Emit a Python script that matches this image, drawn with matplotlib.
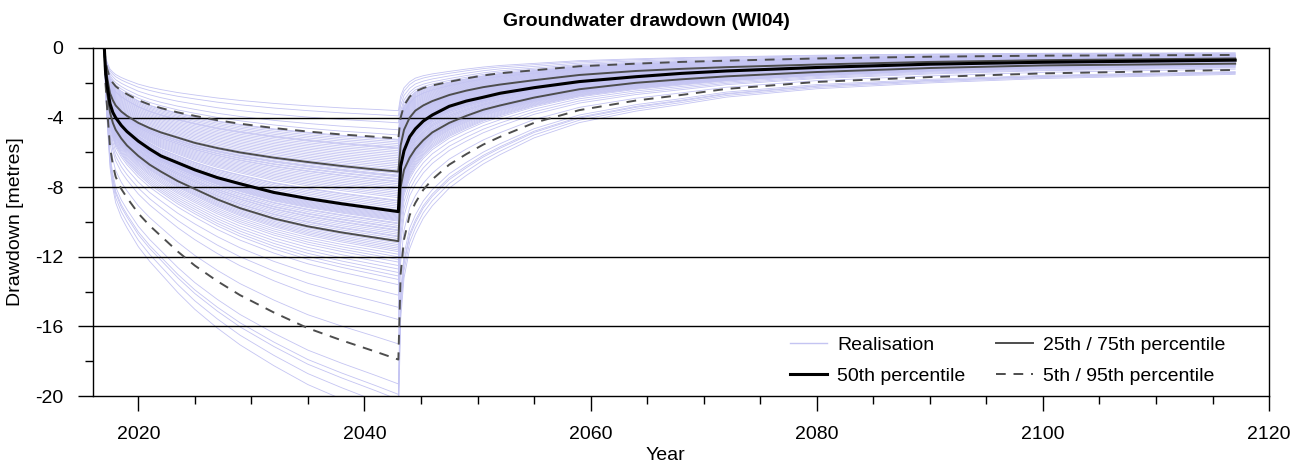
import numpy as np
import matplotlib
matplotlib.use("Agg")
import matplotlib.pyplot as plt
from matplotlib.ticker import MultipleLocator

plt.rcParams['font.family'] = ['Liberation Sans', 'DejaVu Sans']
plt.rcParams['axes.unicode_minus'] = False

# years at which the percentile curves were read (pumping, then recovery)
years_pump = [2017.0, 2017.1, 2017.25, 2017.5, 2017.75, 2018.0, 2018.5, 2019.0, 2020.0,
              2021.0, 2022.0, 2023.5, 2025.0, 2027.0, 2029.0, 2032.0, 2035.0, 2038.0,
              2041.0, 2043.0]
years_rec = [2043.2, 2043.5, 2044.0, 2044.5, 2045.2, 2046.0, 2047.5, 2049.0, 2050.5,
             2052.0, 2055.0, 2059.0, 2064.0, 2068.0, 2072.0, 2080.0, 2090.0, 2100.0, 2117.0]

# drawdown [m] of the percentile curves
p95 = [0, -0.7, -1.2, -1.75, -2.0, -2.2, -2.45, -2.65, -3.0, -3.25, -3.45, -3.7, -3.9,
       -4.15, -4.35, -4.6, -4.8, -4.97, -5.1, -5.2,
       -4.0, -3.3, -2.8, -2.5, -2.3, -2.15, -1.94, -1.75, -1.58, -1.45, -1.28, -1.05,
       -0.9, -0.8, -0.73, -0.6, -0.5, -0.44, -0.4]
p75 = [0, -1.0, -1.7, -2.6, -3.0, -3.3, -3.65, -3.9, -4.3, -4.6, -4.85, -5.15, -5.45,
       -5.75, -6.0, -6.3, -6.55, -6.78, -6.98, -7.1,
       -5.6, -4.7, -4.0, -3.6, -3.3, -3.05, -2.7, -2.45, -2.25, -2.1, -1.85, -1.55,
       -1.32, -1.2, -1.1, -0.95, -0.8, -0.7, -0.6]
p50 = [0, -1.3, -2.2, -3.2, -3.7, -4.0, -4.45, -4.8, -5.35, -5.8, -6.2, -6.6, -7.0,
       -7.45, -7.8, -8.3, -8.65, -8.95, -9.22, -9.4,
       -6.8, -5.9, -5.1, -4.65, -4.2, -3.85, -3.35, -3.05, -2.83, -2.6, -2.28, -1.93,
       -1.65, -1.46, -1.32, -1.12, -0.93, -0.82, -0.7]
p25 = [0, -1.5, -2.6, -3.7, -4.3, -4.7, -5.2, -5.6, -6.2, -6.7, -7.1, -7.65, -8.1,
       -8.7, -9.2, -9.8, -10.25, -10.6, -10.9, -11.1,
       -8.0, -7.0, -6.3, -5.8, -5.3, -4.85, -4.3, -3.9, -3.55, -3.3, -2.85, -2.37,
       -2.0, -1.8, -1.63, -1.38, -1.15, -1.0, -0.9]
p5 = [0, -2.0, -3.5, -5.7, -6.7, -7.4, -8.1, -8.6, -9.5, -10.2, -10.8, -11.7, -12.5,
      -13.4, -14.2, -15.2, -16.1, -16.8, -17.45, -17.9,
      -13.0, -11.0, -9.6, -8.9, -8.15, -7.55, -6.7, -6.1, -5.55, -5.1, -4.3, -3.57,
      -3.02, -2.7, -2.35, -1.95, -1.67, -1.46, -1.26]

# drawdown of each realisation at the end of pumping (2043)
realisation_peak = [
    -21.5, -20.8, -20.2, -19.9, -19.3,
    -17.0, -15.6, -14.9, -14.2, -13.6, -13.3, -13.1, -12.9, -12.7, -12.5,
    -12.3, -12.15, -12.0, -11.85, -11.7, -11.6, -11.5, -11.4, -11.3, -11.2,
    -11.05, -10.95, -10.85, -10.8, -10.7, -10.6, -10.5, -10.45, -10.35, -10.3,
    -10.2, -10.1, -10.05, -9.95, -9.9, -9.85, -9.8, -9.75, -9.7, -9.65,
    -9.6, -9.55, -9.5, -9.45, -9.4,
    -9.3, -9.2, -9.1, -9.0, -8.9, -8.8, -8.75, -8.6, -8.5, -8.4,
    -8.3, -8.2, -8.1, -8.0, -7.9, -7.8, -7.7, -7.65, -7.55, -7.5,
    -7.4, -7.35, -7.3, -7.2, -7.15,
    -7.0, -6.9, -6.8, -6.7, -6.6, -6.5, -6.4, -6.3, -6.2, -6.1,
    -6.0, -5.9, -5.8, -5.75, -5.7, -5.6, -5.5, -5.4, -5.3, -5.25,
    -5.0, -4.7, -4.3, -3.9, -3.6,
]

years = np.array(years_pump + years_rec)
pct = [np.array(p) for p in (p5, p25, p50, p75, p95)]
pct_peak = [c[len(years_pump) - 1] for c in pct]


def realisation_curve(peak):
    # shape taken from the neighbouring percentile curves, matched at 2043
    if peak <= pct_peak[0]:
        return pct[0] * peak / pct_peak[0]
    if peak >= pct_peak[-1]:
        return pct[-1] * peak / pct_peak[-1]
    for i in range(len(pct) - 1):
        a, b = pct_peak[i], pct_peak[i + 1]
        if a <= peak <= b:
            w = (peak - a) / (b - a)
            return (1 - w) * pct[i] + w * pct[i + 1]


fs = 14
fig = plt.figure(figsize=(13.03, 4.66), dpi=100)
ax = fig.add_axes([0.0714, 0.150, 0.9026, 0.747])

real_color = '#c4c4f2'
for pk in realisation_peak:
    ax.plot(years, realisation_curve(pk), color=real_color, lw=0.6, zorder=1)

for y in [-4, -8, -12, -16]:
    ax.axhline(y, color='black', lw=1.0, zorder=2)

ax.plot(years, pct[3], color='#4d4d4d', lw=1.4, zorder=3)
ax.plot(years, pct[1], color='#4d4d4d', lw=1.4, zorder=3)
ax.plot(years, pct[4], color='#4d4d4d', lw=1.4, ls=(0, (5, 4)), zorder=3)
ax.plot(years, pct[0], color='#4d4d4d', lw=1.4, ls=(0, (5, 4)), zorder=3)
ax.plot(years, pct[2], color='black', lw=2.2, zorder=4)

ax.set_xlim(2016, 2120)
ax.set_ylim(-20, 0)
ax.xaxis.set_major_locator(MultipleLocator(20))
ax.xaxis.set_minor_locator(MultipleLocator(5))
ax.yaxis.set_major_locator(MultipleLocator(4))
ax.yaxis.set_minor_locator(MultipleLocator(2))
ax.tick_params(axis='both', which='major', length=10.8, width=1.0, labelsize=fs, pad=10.5)
ax.tick_params(axis='both', which='minor', length=5.8, width=1.0)
ax.tick_params(axis='x', which='major', pad=11)
for s in ax.spines.values():
    s.set_linewidth(1.0)

fig.text(665 / 1303, 1 - 455 / 466, 'Year', ha='center', va='center', fontsize=fs)
fig.text(16 / 1303, 1 - 222 / 466, 'Drawdown [metres]', ha='center', va='center',
         rotation=90, fontsize=fs)
fig.text(646 / 1303, 1 - 22 / 466, 'Groundwater drawdown (WI04)', ha='center', va='center',
         fontsize=fs, fontweight='bold')

h_real, = ax.plot([], [], color=real_color, lw=1.0)
h_50, = ax.plot([], [], color='black', lw=2.2)
h_2575, = ax.plot([], [], color='#4d4d4d', lw=1.4)
h_595, = ax.plot([], [], color='#4d4d4d', lw=1.4, ls=(0, (5, 4)))
ax.legend([h_real, h_50, h_2575, h_595],
          ['Realisation', '50th percentile', '25th / 75th percentile', '5th / 95th percentile'],
          ncol=2, frameon=False, fontsize=fs, loc='lower right',
          bbox_to_anchor=(0.978, -0.018), handlelength=1.9, handletextpad=0.55,
          columnspacing=1.55, labelspacing=0.7)

fig.savefig('out.png', dpi=100)
